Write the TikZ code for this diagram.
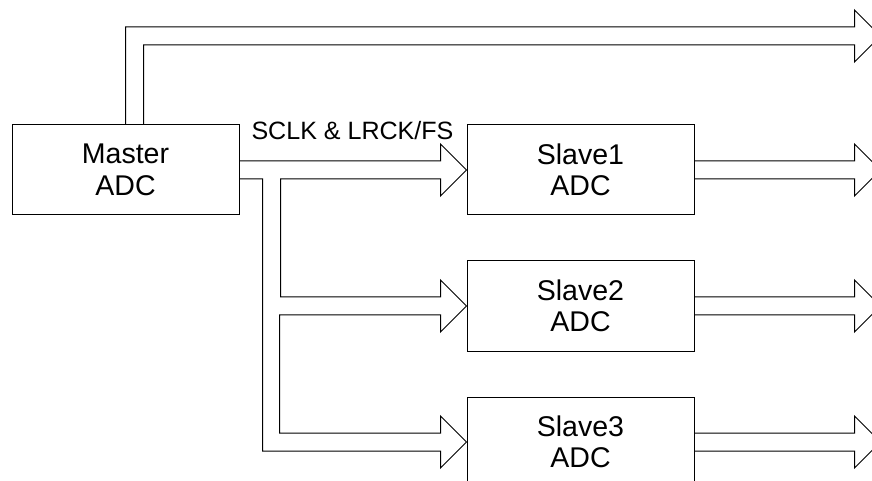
\documentclass[tikz,border=0pt]{standalone}
\usepackage{fontspec}
\setmainfont{Liberation Sans}
\usetikzlibrary{calc}

\begin{document}
\begin{tikzpicture}[x=0.75pt,y=-0.75pt,line width=0.75pt]
  \tikzstyle{adc}=[draw, minimum width=170.25pt, minimum height=67.5pt, inner sep=0pt, align=center, font=\fontsize{21.4}{23.6}\selectfont] % the converters
  \tikzstyle{sig}=[font=\fontsize{18.8}{22}\selectfont] % name of the clock bus
  \useasboundingbox (0,0) rectangle (872,481);
  \node[adc] (master) at (125.5,170) {Master\\ADC};
  \node[adc] (s1) at (580.5,170) {Slave1\\ADC};
  \node[adc] (s2) at (580.5,306) {Slave2\\ADC};
  \node[adc] (s3) at (580.5,442) {Slave3\\ADC};
  \node[sig, anchor=base] (sclk) at (352.5,140) {SCLK \& LRCK/FS};
  \coordinate (hd) at ($(s1.east)+(160,0)$);
  % output of the master
  \draw (master.north) |- ($(hd)+(0,-143)$) -- ++(0,-17) -- ++(26,26) -- ++(-26,26) -- ++(0,-17) -| ($(master.north)+(18,0)$);
  % clock bus to the slaves
  \draw ($(master.east)+(0,-9)$) -- ($(s1.west)+(-26,-9)$) -- ++(0,-17) -- (s1.west) -- ++(-26,26) -- ++(0,-17)
    -- ($(master.east)+(41,9)$) |- ($(s2.west)+(-26,-9)$) -- ++(0,-17) -- (s2.west) -- ++(-26,26) -- ++(0,-17)
    -- ++(-161,0) |- ($(s3.west)+(-26,-9)$) -- ++(0,-17) -- (s3.west) -- ++(-26,26) -- ++(0,-17)
    -| ($(master.east)+(23,9)$) -- ++(-23,0);
  % outputs of the slaves
  \foreach \s in {s1,s2,s3}
    \draw ($(\s.east)+(0,-9)$) -- ++(160,0) -- ++(0,-17) -- ++(26,26) -- ++(-26,26) -- ++(0,-17) -- ($(\s.east)+(0,9)$);
\end{tikzpicture}
\end{document}
